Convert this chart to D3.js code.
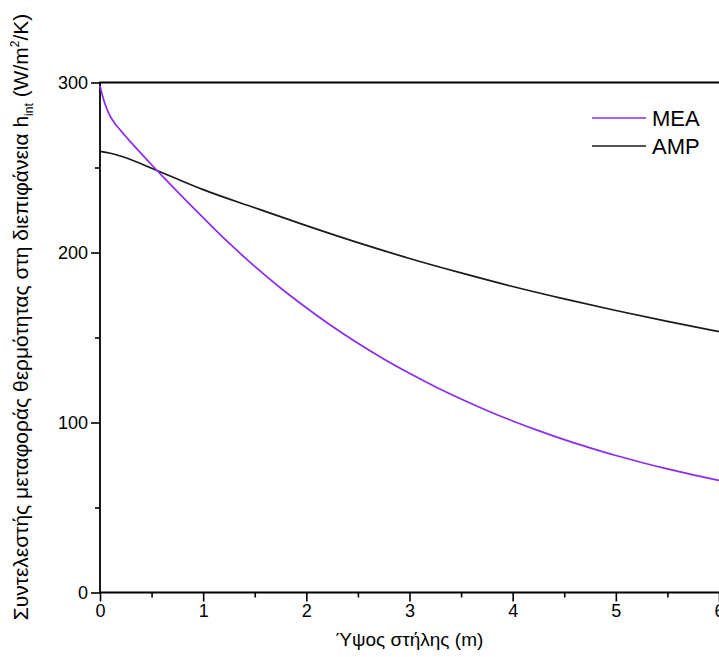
<!DOCTYPE html>
<html>
<head>
<meta charset="utf-8">
<script src="https://cdn.jsdelivr.net/npm/d3@7"></script>
<style>
  html, body { margin: 0; padding: 0; background: #ffffff; }
  svg { display: block; font-family: "Liberation Sans", Arial, sans-serif; }
</style>
</head>
<body>
<svg id="chart" width="719" height="657"></svg>
<script>
// Column height (m) sampled along the MEA profile
const meaHeight = [0, 0.025, 0.05, 0.1, 0.15, 0.2, 0.25, 0.3, 0.4, 0.5, 0.6, 0.75, 1.0, 1.25, 1.5, 1.75, 2.0, 2.25, 2.5, 2.75, 3.0, 3.25, 3.5, 3.75, 4.0, 4.25, 4.5, 4.75, 5.0, 5.25, 5.5, 5.75, 6.0];
// Interfacial heat transfer coefficient for MEA (W/m2/K)
const meaValues = [298, 292, 287, 280, 275.5, 271.8, 268.2, 264.8, 258.2, 251.6, 245.2, 235.8, 220.5, 205.6, 191.8, 179.1, 167.5, 156.6, 146.6, 137.4, 128.9, 121, 113.8, 107.1, 100.9, 95.2, 89.9, 85.1, 80.6, 76.5, 72.7, 69.2, 65.9];

// Column height (m) sampled along the AMP profile
const ampHeight = [0, 0.1, 0.25, 0.5, 0.75, 1.0, 1.5, 2.0, 2.5, 3.0, 3.5, 4.0, 4.5, 5.0, 5.5, 6.0];
// Interfacial heat transfer coefficient for AMP (W/m2/K)
const ampValues = [259.5, 258.4, 255.7, 249.6, 243.2, 237, 226.3, 215.8, 205.8, 196.5, 188, 180, 172.7, 165.9, 159.5, 153.5];

const seriesNames = ["MEA", "AMP"];
const seriesColors = ["#8b2cf2", "#1a1a1a"];

const xTicks = [0, 1, 2, 3, 4, 5, 6];
const xMinorTicks = [0.5, 1.5, 2.5, 3.5, 4.5, 5.5];
const yTicks = [0, 100, 200, 300];
const yMinorTicks = [50, 150, 250];

const svg = d3.select("#chart");

const x = d3.scaleLinear().domain([0, 6]).range([100, 719]);
const y = d3.scaleLinear().domain([0, 300]).range([592.5, 82.5]);

const styleTicks = g => g.selectAll("line").attr("stroke", "#000").attr("stroke-width", 1.6);
const styleLabels = g => g.selectAll("text")
  .attr("font-size", 18)
  .attr("fill", "#000")
  .attr("font-family", "Liberation Sans, Arial, sans-serif");

// Bottom axis with major and minor outward ticks
svg.append("g")
  .attr("transform", `translate(0,${y(0)})`)
  .call(d3.axisBottom(x).tickValues(xTicks).tickSize(9).tickPadding(3).tickFormat(d3.format("d")))
  .call(g => g.select(".domain").remove())
  .call(styleTicks)
  .call(styleLabels);

svg.append("g")
  .attr("transform", `translate(0,${y(0)})`)
  .call(d3.axisBottom(x).tickValues(xMinorTicks).tickSize(5).tickFormat(""))
  .call(g => g.select(".domain").remove())
  .call(styleTicks);

// Left axis with major and minor outward ticks
svg.append("g")
  .attr("transform", `translate(${x(0)},0)`)
  .call(d3.axisLeft(y).tickValues(yTicks).tickSize(9).tickPadding(3).tickFormat(d3.format("d")))
  .call(g => g.select(".domain").remove())
  .call(styleTicks)
  .call(styleLabels);

svg.append("g")
  .attr("transform", `translate(${x(0)},0)`)
  .call(d3.axisLeft(y).tickValues(yMinorTicks).tickSize(5).tickFormat(""))
  .call(g => g.select(".domain").remove())
  .call(styleTicks);

// Plot frame: left, bottom and top edges
svg.append("path")
  .attr("d", `M${x(6) + 2},${y(300)}H${x(0)}V${y(0)}H${x(6) + 2}`)
  .attr("fill", "none")
  .attr("stroke", "#000")
  .attr("stroke-width", 1.8);

// Data curves
const line = d3.line()
  .x(d => x(d[0]))
  .y(d => y(d[1]))
  .curve(d3.curveMonotoneX);

const curves = [
  { name: "AMP", color: seriesColors[1], points: d3.zip(ampHeight, ampValues) },
  { name: "MEA", color: seriesColors[0], points: d3.zip(meaHeight, meaValues) }
];

svg.append("g")
  .selectAll("path")
  .data(curves)
  .join("path")
  .attr("d", d => line(d.points))
  .attr("fill", "none")
  .attr("stroke", d => d.color)
  .attr("stroke-width", 1.7);

// Legend
const legend = svg.append("g");
seriesNames.forEach((name, i) => {
  const ly = 118 + i * 28;
  legend.append("line")
    .attr("x1", 592).attr("x2", 646)
    .attr("y1", ly).attr("y2", ly)
    .attr("stroke", seriesColors[i])
    .attr("stroke-width", 1.7);
  legend.append("text")
    .attr("x", 652).attr("y", ly + 8)
    .attr("font-size", 22)
    .attr("fill", "#000")
    .text(name);
});

// Axis titles
svg.append("text")
  .attr("x", (x(0) + x(6)) / 2)
  .attr("y", 646)
  .attr("text-anchor", "middle")
  .attr("font-size", 19)
  .attr("fill", "#000")
  .text("Ύψος στήλης (m)");

const yTitle = svg.append("text")
  .attr("transform", "translate(28,317) rotate(-90)")
  .attr("text-anchor", "middle")
  .attr("font-size", 21)
  .attr("fill", "#000");
yTitle.append("tspan").text("Συντελεστής μεταφοράς θερμότητας στη διεπιφάνεια h");
yTitle.append("tspan").attr("font-size", 12).attr("dy", 5).text("int");
yTitle.append("tspan").attr("dy", -5).text(" (W/m");
yTitle.append("tspan").attr("font-size", 12).attr("dy", -9).text("2");
yTitle.append("tspan").attr("dy", 9).text("/K)");
</script>
</body>
</html>
